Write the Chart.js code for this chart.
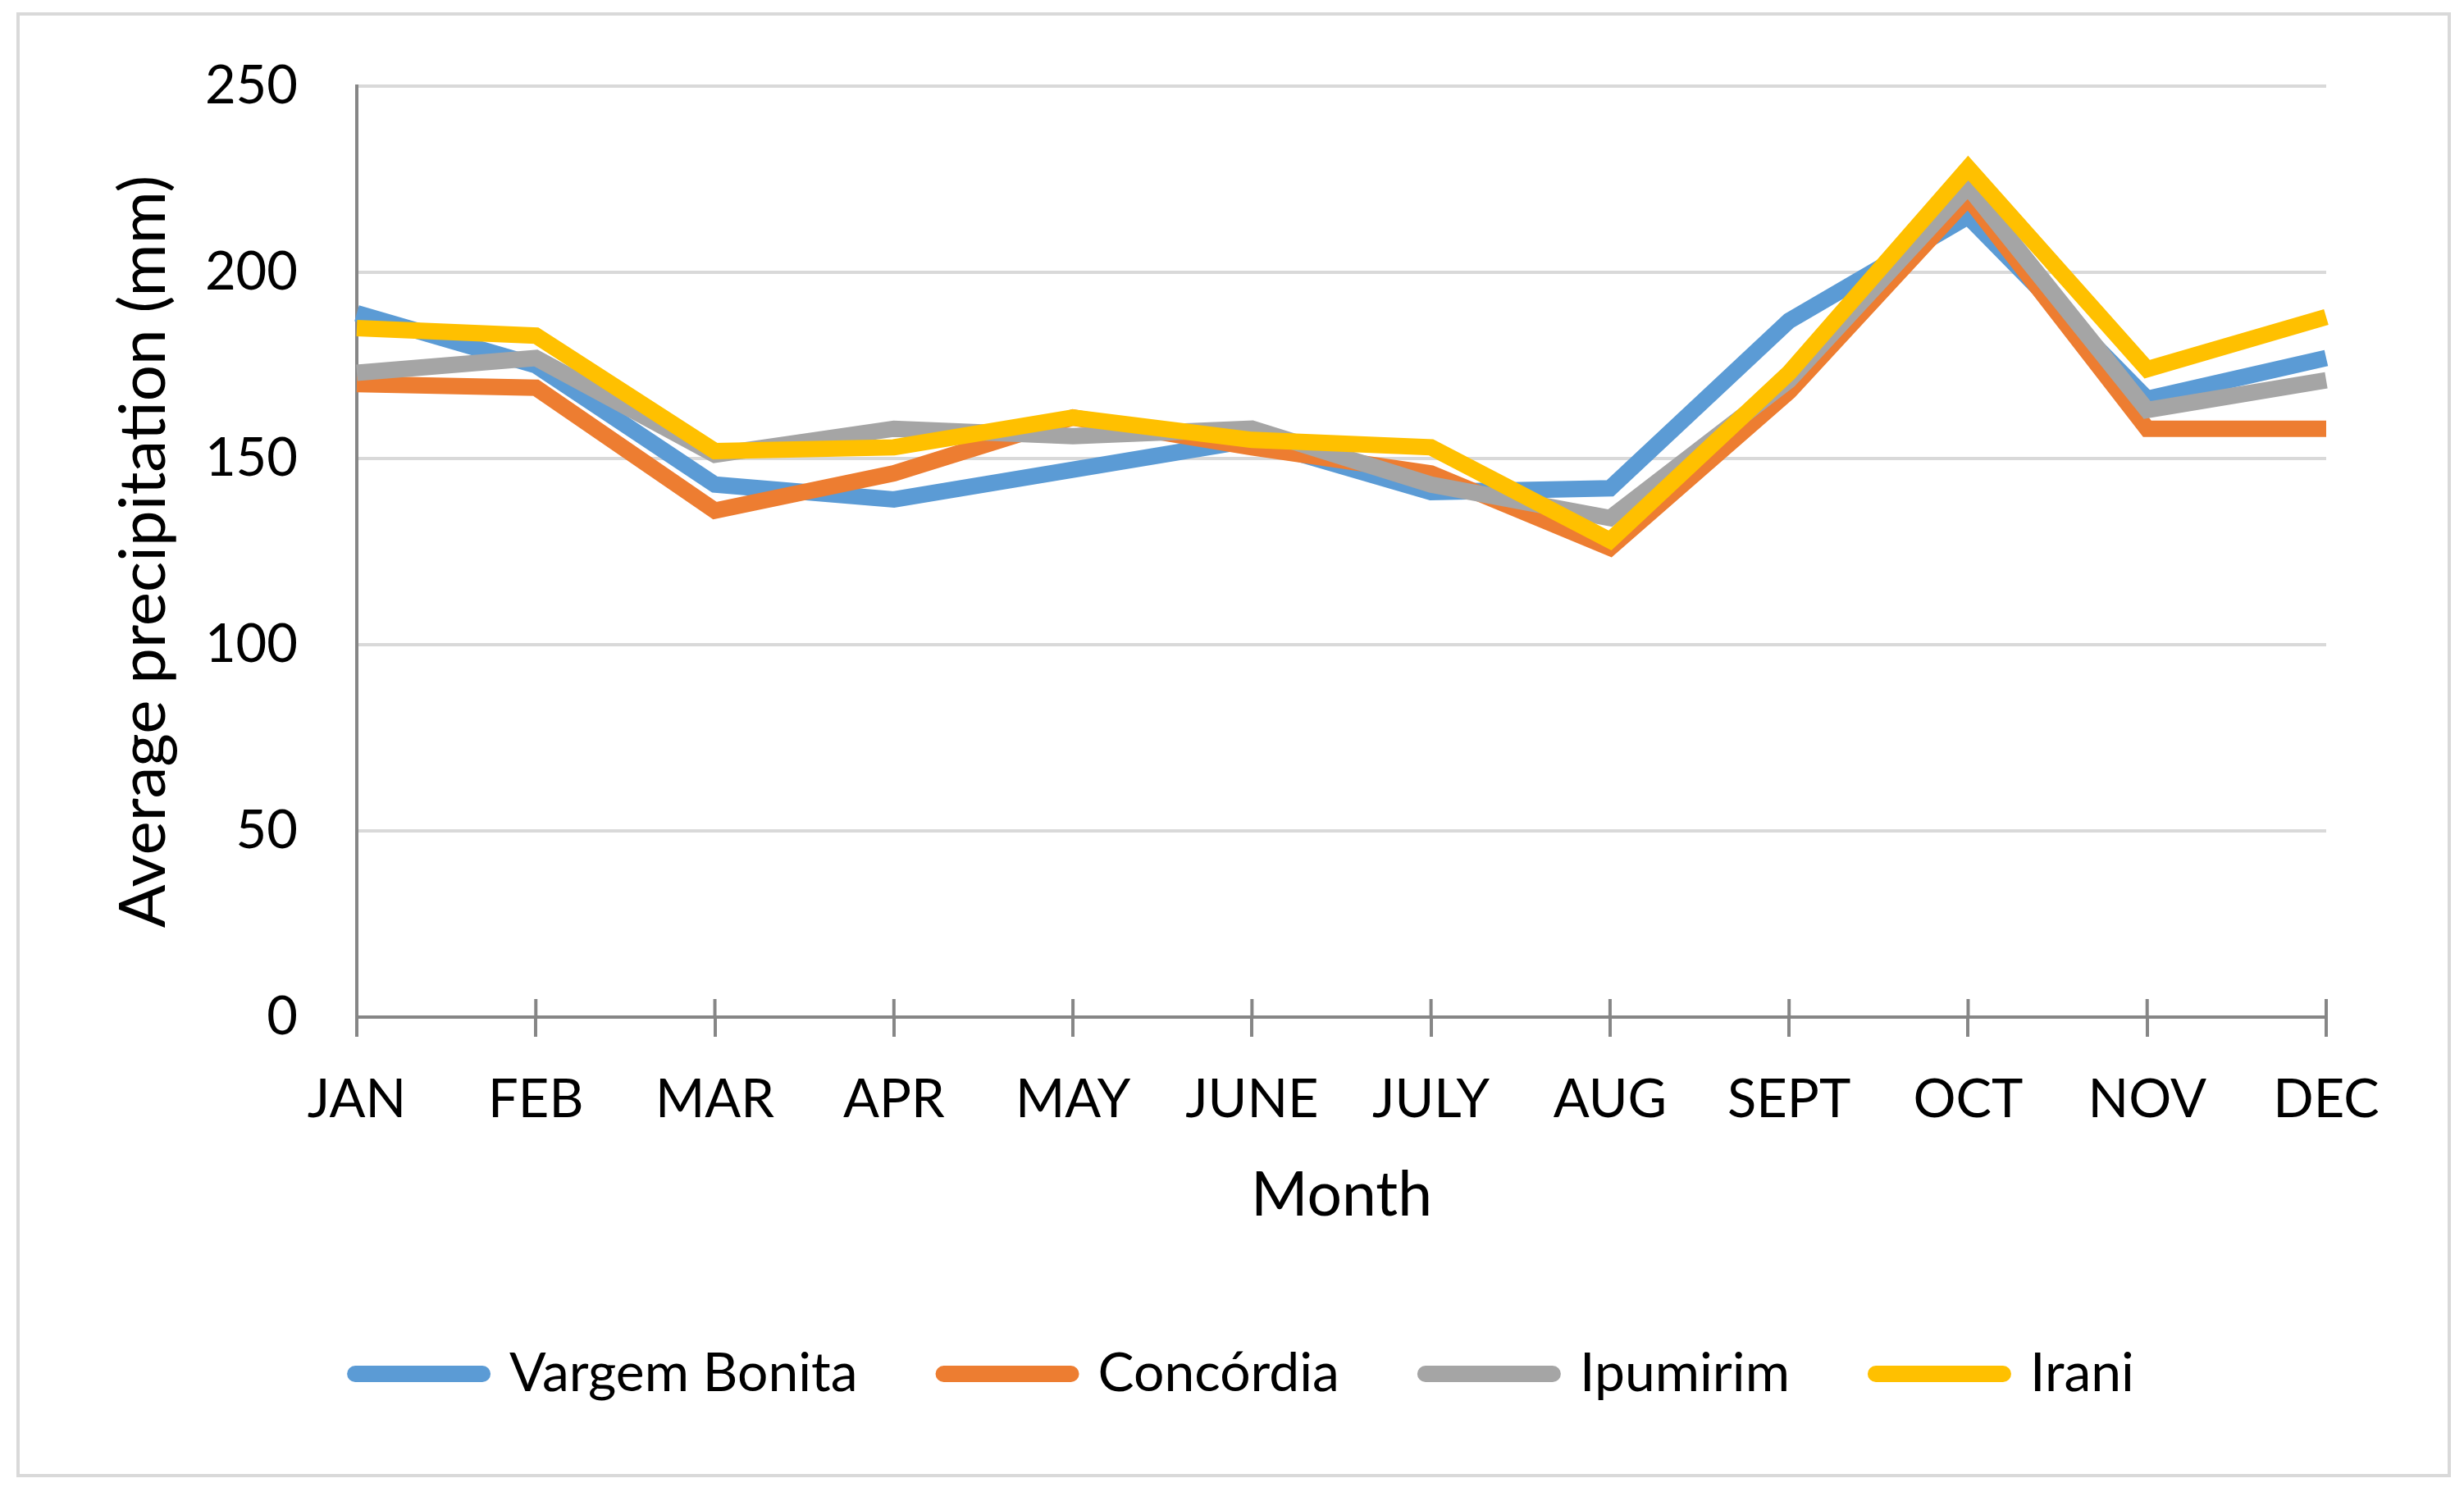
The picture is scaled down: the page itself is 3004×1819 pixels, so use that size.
<!DOCTYPE html>
<html><head><meta charset="utf-8">
<script src="https://cdn.jsdelivr.net/npm/chart.js@4.4.1/dist/chart.umd.min.js"></script>
<style>
html,body{margin:0;padding:0;background:#fff;}
#frame{position:absolute;left:20px;top:15px;width:2960px;height:1778px;border:4px solid #d9d9d9;}
canvas{display:block}
</style></head><body>
<div id="frame"><canvas id="c" width="2960" height="1778"></canvas></div>
<script>
const months = ['JAN','FEB','MAR','APR','MAY','JUNE','JULY','AUG','SEPT','OCT','NOV','DEC'];
const vargemBonita = [189,175,143,139,147,155,141,142,187,215,166,177];
const concordia    = [170,169,136,146,161,153,146,126,168,220,158,158];
const ipumirim     = [173,177,151,158,156,158,143,134,171,223,163,171];
const irani        = [185,183,152,153,161,155,153,128,173,228,174,188];
const seriesNames  = ['Vargem Bonita','Concórdia','Ipumirim','Irani'];
const seriesColors = ['#5B9BD5','#ED7D31','#A5A5A5','#FFC000'];
const yTicks = [0,50,100,150,200,250];

const FONT = 'Lato';
const AXIS = '#868686';

const crossTicks = {
  id:'crossTicks',
  beforeDatasetsDraw(chart){
    const xs = chart.scales.x, ctx = chart.ctx, b = chart.chartArea.bottom;
    ctx.save(); ctx.strokeStyle = AXIS; ctx.lineWidth = 4;
    xs.ticks.forEach((t,i)=>{ const px = xs.getPixelForTick(i); ctx.beginPath(); ctx.moveTo(px,b-22); ctx.lineTo(px,b); ctx.stroke(); });
    ctx.restore();
  }
};

const dataArrays = [vargemBonita, concordia, ipumirim, irani];
new Chart(document.getElementById('c'), {
  type:'line',
  data:{
    labels: months,
    datasets: dataArrays.map((d,i)=>({
      label: seriesNames[i], data: d, borderColor: seriesColors[i], backgroundColor: seriesColors[i],
      borderWidth: 20, pointRadius: 0, pointHoverRadius: 0, tension: 0, fill: false,
      borderJoinStyle: 'miter', borderCapStyle: 'butt', order: 4 - i
    }))
  },
  plugins:[crossTicks],
  options:{
    responsive:false, animation:false, devicePixelRatio:1,
    layout:{padding:{left:27,right:0,top:86,bottom:79}},
    plugins:{
      tooltip:{enabled:false},
      legend:{
        position:'bottom', align:'center',
        labels:{
          usePointStyle:true, pointStyleWidth:155, boxHeight:20, padding:105,
          color:'#000', font:{family:FONT,size:66},
          generateLabels:(chart)=>chart.data.datasets.map((ds,i)=>({
            text: ds.label, fillStyle: ds.borderColor, strokeStyle: ds.borderColor,
            lineWidth: 20, lineCap:'round', pointStyle:'line', hidden:false, datasetIndex:i, fontColor:'#000'
          }))
        }
      }
    },
    scales:{
      x:{
        type:'category', offset:false,
        grid:{display:true, drawOnChartArea:false, drawTicks:true, tickLength:24, color:AXIS, lineWidth:4},
        border:{display:true, color:AXIS, width:4},
        ticks:{color:'#000', font:{family:FONT,size:65}, padding:38, maxRotation:0, autoSkip:false},
        title:{display:true, text:'Month', color:'#000', font:{family:FONT,size:75}, padding:{top:0,bottom:34}},
        afterFit(s){ s.height = 297; }
      },
      y:{
        min:0, max:250,
        afterBuildTicks(s){ s.ticks = yTicks.map(v=>({value:v})); },
        grid:{drawTicks:false, color:(c)=> (c.tick && c.tick.value===0) ? 'rgba(0,0,0,0)' : '#D9D9D9', lineWidth:4},
        border:{display:true, color:AXIS, width:4},
        ticks:{color:'#000', font:{family:FONT,size:65}, padding:72},
        title:{display:true, text:'Average precipitation (mm)', color:'#000', font:{family:FONT,size:78}, padding:{top:78,bottom:0}},
        afterFit(s){ s.width = 384; s.paddingTop = 40; s.paddingBottom = 40; }
      },
      yR:{
        position:'right', display:true,
        grid:{display:false}, border:{display:false}, ticks:{display:false},
        afterFit(s){ s.width = 148; s.paddingTop = 0; s.paddingBottom = 0; }
      }
    }
  }
});
</script>
</body></html>
